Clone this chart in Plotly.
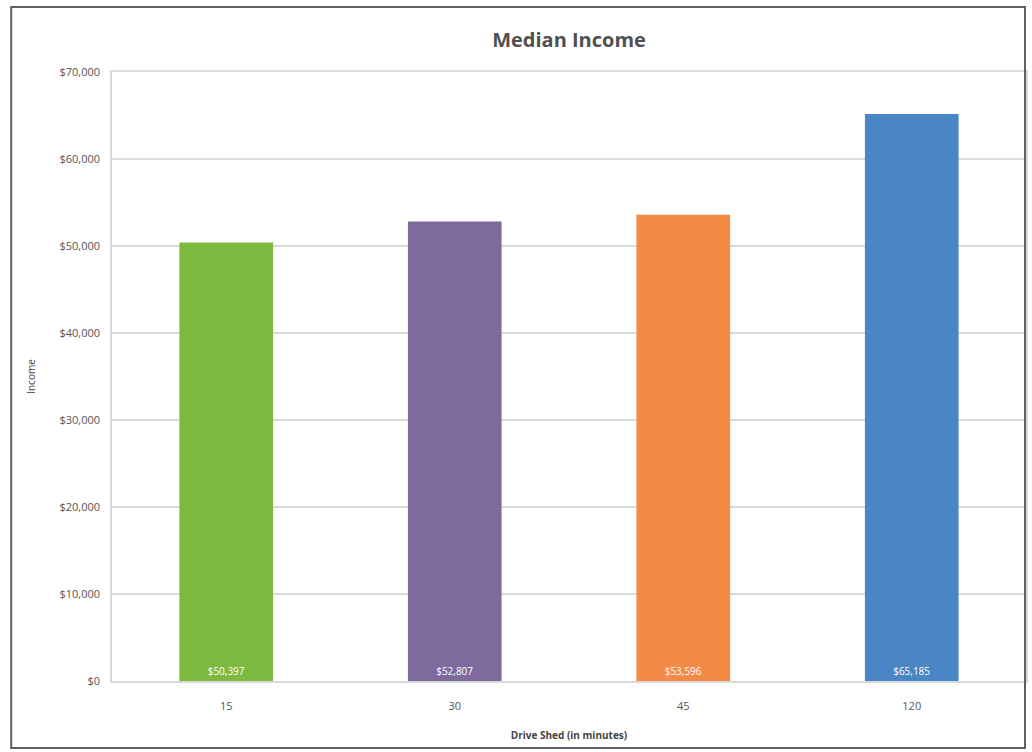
import plotly.graph_objects as go

categories = ["15", "30", "45", "120"]
values = [50397, 52807, 53596, 65185]
value_labels = ["$50,397", "$52,807", "$53,596", "$65,185"]
colors = ["#7DB83F", "#7F6A9E", "#F38A45", "#4A86C5"]
tick_vals = [0, 10000, 20000, 30000, 40000, 50000, 60000, 70000]
tick_text = ["$0", "$10,000", "$20,000", "$30,000", "$40,000", "$50,000", "$60,000", "$70,000"]

W, H = 1032, 752
L, R, T, B = 112, 4, 72, 71
pw, ph = W - L - R, H - T - B

fig = go.Figure(go.Bar(
    x=categories, y=values, marker_color=colors, marker_line_width=0,
    text=value_labels, textposition="inside", insidetextanchor="start",
    textfont=dict(color="white", size=10, family="Open Sans"),
    width=0.41,
))

fig.update_layout(
    width=W, height=H, margin=dict(l=L, r=R, t=T, b=B),
    paper_bgcolor="white", plot_bgcolor="white",
    title=dict(text="<b>Median Income</b>", x=0.5, xanchor="center", xref="paper",
               y=1 - 40 / H, yanchor="middle",
               font=dict(size=20, color="#505050", family="Open Sans")),
    showlegend=False,
    font=dict(family="Open Sans", color="#555555", size=11),
    xaxis=dict(type="category", showgrid=False, showline=True, mirror=True,
               linecolor="#d9d9d9", linewidth=1.5,
               ticks="", ticklabelstandoff=14,
               title=dict(text="<b>Drive Shed (in minutes)</b>", standoff=20,
                          font=dict(size=10, color="#444444"))),
    yaxis=dict(range=[0, 70000], tickvals=tick_vals, ticktext=tick_text,
               showgrid=True, gridcolor="#d9d9d9", gridwidth=1.5, zeroline=False,
               showline=True, mirror=True, linecolor="#d9d9d9", linewidth=1.5,
               ticks="", ticklabelstandoff=8,
               title=dict(text="Income", standoff=22, font=dict(size=10, color="#444444"))),
    shapes=[dict(type="rect", xref="paper", yref="paper",
                 x0=(11 - L) / pw, x1=(1027 - L) / pw,
                 y0=-(H - 4 - T - ph) / ph, y1=1 + (T - 7) / ph,
                 line=dict(color="#606060", width=2))],
)

fig.write_html("out.html")
